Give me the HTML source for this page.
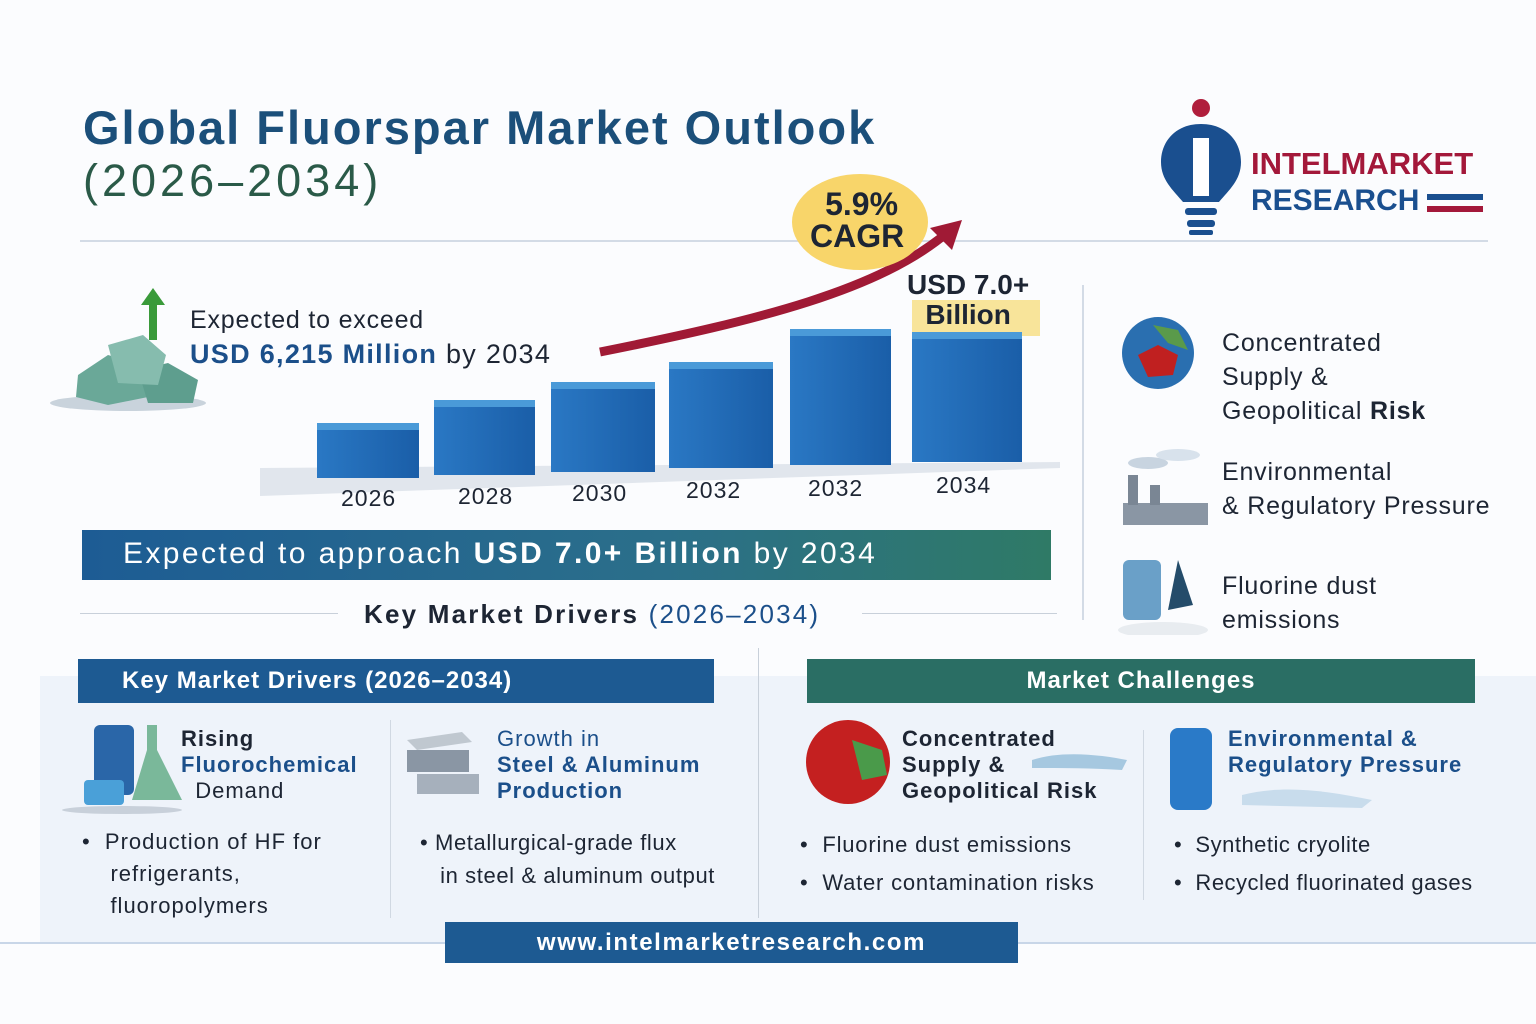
<!DOCTYPE html>
<html><head><meta charset="utf-8"><style>
*{margin:0;padding:0;box-sizing:border-box}
body{width:1536px;height:1024px;background:#fbfcfe;font-family:"Liberation Sans","DejaVu Sans",sans-serif;position:relative;overflow:hidden;color:#1d2533}
.a{position:absolute;white-space:nowrap}
.bar{position:absolute;background:linear-gradient(90deg,#2a78c4,#1a5ea8);}
.bar:before{content:"";position:absolute;left:0;right:0;top:-7px;height:7px;background:#4a9ad8;}
.yr{position:absolute;font-size:23px;color:#1d2533;letter-spacing:1px}
.t{font-size:25px;color:#1d2533;line-height:34px;letter-spacing:0.8px}
.hb{font-weight:bold;font-size:22px;line-height:26px;letter-spacing:1px}
</style></head><body>
<div class="a" style="left:83px;top:100px;font-size:47px;font-weight:bold;color:#1b4f7a;letter-spacing:2px">Global Fluorspar Market Outlook</div>
<div class="a" style="left:83px;top:155px;font-size:45px;color:#2a5a48;letter-spacing:4px">(2026–2034)</div>
<!-- logo -->
<svg class="a" style="left:1155px;top:98px" width="335" height="140">
<circle cx="46" cy="10" r="9" fill="#b01e3c"/>
<path d="M46 26 C20 26 6 44 6 64 C6 82 18 92 28 104 L64 104 C74 92 86 82 86 64 C86 44 72 26 46 26Z" fill="#1a4f8f"/>
<rect x="38" y="40" width="16" height="58" fill="#fff"/>
<rect x="30" y="110" width="32" height="7" rx="3" fill="#1a4f8f"/><rect x="32" y="122" width="28" height="7" rx="3" fill="#1a4f8f"/><rect x="34" y="132" width="24" height="5" rx="2" fill="#1a4f8f"/>
<text x="96" y="76" font-family="Liberation Sans" font-weight="bold" font-size="31" fill="#a3183a">INTELMARKET</text>
<text x="96" y="112" font-family="Liberation Sans" font-weight="bold" font-size="30" fill="#1a4f8f">RESEARCH</text>
<rect x="272" y="96" width="56" height="6" fill="#1a4f8f"/><rect x="272" y="108" width="56" height="6" fill="#a3183a"/>
</svg>
<div class="a" style="left:80px;top:240px;width:1408px;height:2px;background:#d3dbe6"></div>
<div class="a" style="left:1082px;top:285px;width:2px;height:335px;background:#d3dbe6"></div>
<!-- crystals -->
<svg class="a" style="left:48px;top:285px" width="160" height="130">
<ellipse cx="80" cy="118" rx="78" ry="8" fill="#c9d3dc"/>
<polygon points="105,3 117,20 109,20 109,55 101,55 101,20 93,20" fill="#3a9a3a"/>
<polygon points="30,90 60,70 95,80 100,112 60,120 28,112" fill="#6aa898"/>
<polygon points="90,85 120,78 150,95 145,118 100,118" fill="#5e9e8e"/>
<polygon points="60,60 95,50 118,70 110,100 70,98" fill="#86bcae"/>
</svg>
<div class="a t" style="left:190px;top:303px">Expected to exceed</div>
<div class="a" style="left:190px;top:339px;font-size:27px;letter-spacing:1.3px"><b style="color:#1b4f8a">USD 6,215 Million</b> by 2034</div>
<!-- floor -->
<svg class="a" style="left:0;top:0" width="1536" height="520">
<polygon points="260,468 1060,462 1060,468 260,496" fill="#d6dde6" opacity="0.7"/>
<path d="M600 352 C760 320 880 290 948 232" stroke="#a01a35" stroke-width="9" fill="none"/>
<polygon points="962,220 930,228 952,250" fill="#a01a35"/>
<ellipse cx="860" cy="222" rx="68" ry="48" fill="#f8d56a"/>
<rect x="912" y="300" width="128" height="36" fill="#f8e49a"/>
</svg>
<div class="a" style="left:810px;top:188px;font-size:32px;font-weight:bold;color:#1d2533;text-align:center;line-height:32px">&nbsp;5.9%<br>CAGR</div>
<div class="a" style="left:907px;top:270px;font-size:28px;font-weight:bold;line-height:30px;text-align:center">USD 7.0+<br>Billion</div>
<div class="bar" style="left:317px;top:430px;width:102px;height:48px"></div>
<div class="bar" style="left:434px;top:407px;width:101px;height:68px"></div>
<div class="bar" style="left:551px;top:389px;width:104px;height:83px"></div>
<div class="bar" style="left:669px;top:369px;width:104px;height:99px"></div>
<div class="bar" style="left:790px;top:336px;width:101px;height:129px"></div>
<div class="bar" style="left:912px;top:339px;width:110px;height:123px"></div>
<div class="yr" style="left:341px;top:485px">2026</div>
<div class="yr" style="left:458px;top:483px">2028</div>
<div class="yr" style="left:572px;top:480px">2030</div>
<div class="yr" style="left:686px;top:477px">2032</div>
<div class="yr" style="left:808px;top:475px">2032</div>
<div class="yr" style="left:936px;top:472px">2034</div>
<div class="a" style="left:82px;top:530px;width:969px;height:50px;background:linear-gradient(90deg,#1d5c94,#2b6f8a 60%,#2f7a66);color:#fff;font-size:30px;letter-spacing:2.4px;padding:7px 0 0 41px">Expected to approach <b>USD 7.0+ Billion</b> by 2034</div>
<div class="a" style="left:80px;top:613px;width:258px;height:1px;background:#c8d0da"></div>
<div class="a" style="left:862px;top:613px;width:195px;height:1px;background:#c8d0da"></div>
<div class="a" style="left:364px;top:599px;font-size:26px;letter-spacing:2.2px"><b>Key Market Drivers</b> <span style="color:#1b4f8a">(2026–2034)</span></div>
<!-- right col -->
<svg class="a" style="left:1118px;top:315px" width="100" height="320">
<circle cx="40" cy="38" r="36" fill="#2a6fb0"/><path d="M20 40 L40 30 L60 40 L55 60 L30 62Z" fill="#c02020"/><path d="M35 10 L60 15 L70 35 L50 28Z" fill="#5a9a4a"/>
<rect x="5" y="188" width="85" height="22" fill="#8a96a4"/><rect x="10" y="160" width="10" height="30" fill="#7a8694"/><rect x="32" y="170" width="10" height="20" fill="#7a8694"/>
<ellipse cx="30" cy="148" rx="20" ry="6" fill="#c8d4e0"/><ellipse cx="60" cy="140" rx="22" ry="6" fill="#d8e2ec"/>
<rect x="5" y="245" width="38" height="60" rx="6" fill="#6aa0c8"/><path d="M60 245 L75 290 L50 295Z" fill="#244c6a"/>
<ellipse cx="45" cy="315" rx="45" ry="8" fill="#e8ecf0"/>
</svg>
<div class="a t" style="left:1222px;top:326px">Concentrated<br>Supply &amp;<br>Geopolitical <b>Risk</b></div>
<div class="a t" style="left:1222px;top:455px">Environmental<br>&amp; Regulatory Pressure</div>
<div class="a t" style="left:1222px;top:569px">Fluorine dust<br>emissions</div>
<!-- lower panel -->
<div class="a" style="left:40px;top:676px;width:1496px;height:266px;background:#eef3fa"></div>
<div class="a" style="left:0;top:942px;width:1536px;height:2px;background:#c8d6e8"></div>
<div class="a" style="left:758px;top:648px;width:1px;height:270px;background:#c8d0da"></div>
<div class="a" style="left:390px;top:720px;width:1px;height:198px;background:#d0d8e2"></div>
<div class="a" style="left:1143px;top:730px;width:1px;height:170px;background:#d0d8e2"></div>
<div class="a" style="left:78px;top:659px;width:636px;height:44px;background:#1d5a92;color:#fff;font-size:24px;font-weight:bold;letter-spacing:1px;padding:8px 0 0 44px">Key Market Drivers (2026–2034)</div>
<div class="a" style="left:807px;top:659px;width:668px;height:44px;background:#2a6e64;color:#fff;font-size:24px;font-weight:bold;letter-spacing:1px;padding:8px 0 0 0;text-align:center">Market Challenges</div>
<svg class="a" style="left:62px;top:720px" width="1320" height="95">
<rect x="32" y="5" width="40" height="70" rx="6" fill="#2a66a8"/><path d="M85 5 L95 5 L95 30 L120 80 L70 80 L85 30Z" fill="#7ab89a"/><rect x="22" y="60" width="40" height="25" rx="4" fill="#4aa0d8"/><ellipse cx="60" cy="90" rx="60" ry="4" fill="#c8d0da"/>
<polygon points="345,20 400,12 410,22 355,30" fill="#c0c8d0"/><rect x="345" y="30" width="62" height="22" fill="#8a96a4"/><rect x="355" y="54" width="62" height="20" fill="#a6b0bc"/>
<circle cx="786" cy="42" r="42" fill="#c42020"/><path d="M790 20 L820 30 L825 55 L800 60Z" fill="#4a9a4a"/>
<path d="M970 40 C1000 30 1040 35 1065 40 L1060 50 C1030 48 1000 48 970 48Z" fill="#a6c8e0"/>
<rect x="1108" y="8" width="42" height="82" rx="8" fill="#2a7ac8"/><path d="M1180 75 C1220 65 1260 70 1310 80 L1300 88 L1180 85Z" fill="#c8dcec"/>
</svg>
<div class="a hb" style="left:181px;top:726px">Rising<br><span style="color:#1b4f8a">Fluorochemical</span><br><span style="font-weight:normal">&nbsp;&nbsp;Demand</span></div>
<div class="a hb" style="left:497px;top:726px;color:#1b4f8a"><span style="font-weight:normal">Growth in</span><br>Steel &amp; Aluminum<br>Production</div>
<div class="a hb" style="left:902px;top:726px">Concentrated<br>Supply &amp;<br>Geopolitical Risk</div>
<div class="a hb" style="left:1228px;top:726px;color:#1b4f8a">Environmental &amp;<br>Regulatory Pressure</div>
<div class="a" style="left:82px;top:826px;font-size:22px;line-height:32px;letter-spacing:1px">•&nbsp;&nbsp;Production of HF for<br>&nbsp;&nbsp;&nbsp;&nbsp;refrigerants,<br>&nbsp;&nbsp;&nbsp;&nbsp;fluoropolymers</div>
<div class="a" style="left:420px;top:826px;font-size:22px;line-height:33px;letter-spacing:0.6px">•&nbsp;Metallurgical-grade flux<br>&nbsp;&nbsp;&nbsp;in steel &amp; aluminum output</div>
<div class="a" style="left:800px;top:826px;font-size:22px;line-height:38px;letter-spacing:0.8px">•&nbsp;&nbsp;Fluorine dust emissions<br>•&nbsp;&nbsp;Water contamination risks</div>
<div class="a" style="left:1174px;top:826px;font-size:22px;line-height:38px;letter-spacing:0.5px">•&nbsp;&nbsp;Synthetic cryolite<br>•&nbsp;&nbsp;Recycled fluorinated gases</div>
<div class="a" style="left:445px;top:922px;width:573px;height:41px;background:#1d5a92;color:#fff;font-size:24px;font-weight:bold;letter-spacing:1.6px;text-align:center;padding-top:7px">www.intelmarketresearch.com</div>
</body></html>
